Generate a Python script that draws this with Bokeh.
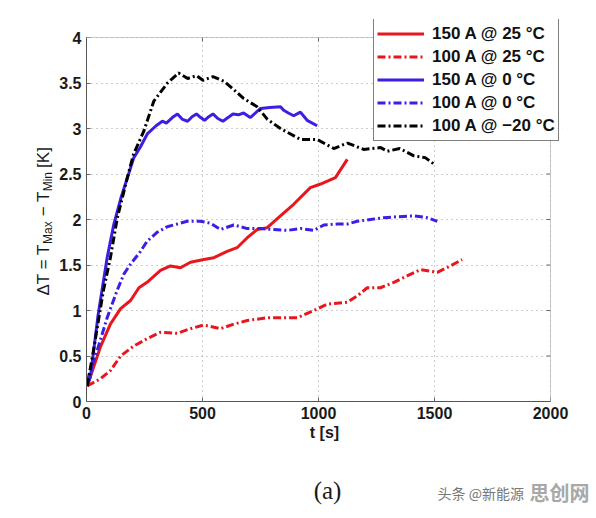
import math
from bokeh.plotting import figure
from bokeh.models import (Range1d, FixedTicker, Legend, LegendItem, Label, BoxAnnotation)
from bokeh.embed import file_html
from bokeh.resources import INLINE

# ---- data ----
series_labels = ["150 A @ 25 °C", "100 A @ 25 °C", "150 A @ 0 °C", "100 A @ 0 °C", "100 A @ \u221220 °C"]

red150_t = [3, 60, 103, 147, 190, 226, 261, 319, 362, 405, 448, 506, 549, 606, 649, 693, 736, 779,
            836, 894, 965, 1009, 1073, 1124]
red150_y = [0.17, 0.6, 0.85, 1.02, 1.11, 1.25, 1.31, 1.44, 1.49, 1.47, 1.53, 1.56, 1.58, 1.65, 1.69,
            1.80, 1.89, 1.91, 2.04, 2.17, 2.35, 2.39, 2.46, 2.66]

red100_t = [3, 60, 103, 147, 204, 261, 319, 391, 448, 506, 577, 635, 693, 779, 836, 908, 980, 1037,
            1124, 1167, 1210, 1267, 1325, 1382, 1440, 1512, 1569, 1619]
red100_y = [0.17, 0.25, 0.34, 0.50, 0.61, 0.69, 0.76, 0.75, 0.80, 0.84, 0.80, 0.85, 0.89, 0.92, 0.92,
            0.92, 1.00, 1.07, 1.09, 1.16, 1.25, 1.25, 1.31, 1.38, 1.45, 1.42, 1.49, 1.56]

blue150_t = [3, 17, 50, 89, 118, 150, 204, 233, 262, 300, 327, 344, 370, 392, 414, 436, 455, 474, 492,
             509, 527, 545, 566, 588, 610, 631, 655, 677, 706, 750, 790, 836, 850, 870, 893, 922, 951, 994]
blue150_y = [0.18, 0.27, 0.95, 1.58, 1.95, 2.25, 2.68, 2.80, 2.94, 3.03, 3.08, 3.06, 3.12, 3.16, 3.10,
             3.08, 3.13, 3.16, 3.12, 3.09, 3.13, 3.16, 3.11, 3.08, 3.12, 3.16, 3.15, 3.17, 3.12, 3.22,
             3.23, 3.24, 3.20, 3.17, 3.14, 3.18, 3.09, 3.03]

blue100_t = [3, 46, 89, 132, 161, 190, 233, 261, 305, 348, 391, 434, 491, 534, 577, 635, 693, 750, 807,
             865, 922, 980, 1023, 1081, 1124, 1167, 1224, 1281, 1339, 1411, 1468, 1512]
blue100_y = [0.23, 0.56, 0.92, 1.22, 1.40, 1.51, 1.65, 1.76, 1.86, 1.92, 1.95, 1.98, 1.98, 1.96, 1.89,
             1.94, 1.90, 1.90, 1.89, 1.88, 1.90, 1.88, 1.94, 1.95, 1.95, 1.98, 2.00, 2.02, 2.03, 2.04,
             2.02, 1.98]

black100_t = [3, 30, 73, 103, 133, 176, 203, 247, 290, 349, 397, 436, 474, 502, 545, 592, 634, 677, 735,
              780, 836, 922, 994, 1066, 1125, 1195, 1268, 1297, 1350, 1411, 1460, 1497]
black100_y = [0.17, 0.56, 1.22, 1.58, 2.02, 2.46, 2.72, 2.97, 3.30, 3.50, 3.61, 3.55, 3.58, 3.53, 3.57,
              3.52, 3.43, 3.33, 3.24, 3.10, 3.00, 2.88, 2.88, 2.78, 2.84, 2.77, 2.79, 2.75, 2.78, 2.70,
              2.68, 2.61]

x_ticks = [0, 500, 1000, 1500, 2000]
y_ticks = [0, 0.5, 1, 1.5, 2, 2.5, 3, 3.5, 4]
y_tick_labels = ["0", "0.5", "1", "1.5", "2", "2.5", "3", "3.5", "4"]

RED = "#e8161d"
BLUE = "#3b1fe4"
BLACK = "#000000"
DASHDOT = "8 3 2 3"
FONT = "Liberation Sans"
AXC = "#555555"

X0, X1 = x_ticks[0], x_ticks[-1]
Y0, Y1 = y_ticks[0], y_ticks[-1]
PX_X = 464 / (X1 - X0)   # pixels per data unit (axis box is 464 x 364 px)
PX_Y = 364 / (Y1 - Y0)

# frame extends a bit above/right of the axis box so the legend can overlap the box edge
p = figure(width=596, height=516, output_backend="svg", toolbar_location=None,
           x_range=Range1d(X0, X1 + 12 / PX_X), y_range=Range1d(Y0, Y1 + 18 / PX_Y),
           min_border_left=86, min_border_right=34, min_border_top=19, min_border_bottom=115)
p.background_fill_color = "white"
p.border_fill_color = "white"
p.outline_line_color = None

# grid
for g in (p.xgrid[0], p.ygrid[0]):
    g.grid_line_color = "#9a9a9a"
    g.grid_line_dash = "1 4"
    g.grid_line_width = 1
p.xgrid[0].ticker = FixedTicker(ticks=x_ticks)
p.ygrid[0].ticker = FixedTicker(ticks=y_ticks)

r1 = p.line(red150_t, red150_y, line_color=RED, line_width=3)
r2 = p.line(red100_t, red100_y, line_color=RED, line_width=3, line_dash=DASHDOT)
r3 = p.line(blue150_t, blue150_y, line_color=BLUE, line_width=3)
r4 = p.line(blue100_t, blue100_y, line_color=BLUE, line_width=3, line_dash=DASHDOT)
r5 = p.line(black100_t, black100_y, line_color=BLACK, line_width=3, line_dash=DASHDOT)

# mask the frame strip outside the axis box, then draw the box
p.add_layout(BoxAnnotation(bottom=Y1, fill_color="white", fill_alpha=1, line_color=None))
p.add_layout(BoxAnnotation(left=X1, fill_color="white", fill_alpha=1, line_color=None))
p.add_layout(BoxAnnotation(left=X0, right=X1, bottom=Y0, top=Y1, fill_alpha=0,
                           line_color=AXC, line_width=1))
# inward ticks on top and right edges
p.ray(x=x_ticks, y=[Y1] * len(x_ticks), length=4, length_units="screen", angle=-math.pi / 2,
      line_color="#666666", line_width=1)
p.ray(x=[X1] * len(y_ticks), y=y_ticks, length=4, length_units="screen", angle=math.pi,
      line_color="#666666", line_width=1)

# axes
xa = p.xaxis[0]
ya = p.yaxis[0]
xa.ticker = FixedTicker(ticks=x_ticks)
ya.ticker = FixedTicker(ticks=y_ticks)
xa.bounds = (X0, X1)
ya.bounds = (Y0, Y1)
ya.major_label_overrides = {t: l for t, l in zip(y_ticks, y_tick_labels)}
for ax in (xa, ya):
    ax.major_label_text_font = FONT
    ax.major_label_text_font_style = "bold"
    ax.major_label_text_font_size = "16px"
    ax.major_label_text_color = "#1a1a1a"
    ax.axis_line_color = AXC
    ax.major_tick_line_color = "#666666"
    ax.major_tick_in = 4
    ax.major_tick_out = 0
    ax.minor_tick_line_color = None
    ax.major_label_standoff = 5
xa.axis_label = "t [s]"
xa.axis_label_text_font = FONT
xa.axis_label_text_font_style = "bold"
xa.axis_label_text_font_size = "16px"
xa.axis_label_text_color = "#1a1a1a"
xa.axis_label_standoff = 2

# legend
legend = Legend(items=[LegendItem(label=l, renderers=[r]) for l, r in
                       zip(series_labels, [r1, r2, r3, r4, r5])],
                location=(287, 260), orientation="vertical")
legend.label_text_font = FONT
legend.label_text_font_style = "bold"
legend.label_text_font_size = "17px"
legend.label_text_color = "#111111"
legend.label_height = 23
legend.glyph_height = 23
legend.glyph_width = 47
legend.label_standoff = 8
legend.spacing = 0
legend.padding = 3
legend.margin = 0
legend.border_line_color = "#000000"
legend.border_line_width = 1.2
legend.background_fill_color = "white"
legend.background_fill_alpha = 1.0
p.add_layout(legend, "center")

# y-axis label (with subscripts) as two rotated texts in the left panel
def tx(px):   # canvas x -> data x
    return X0 + (px - 86) / PX_X
def ty(py):   # canvas y -> data y
    return Y0 + (401 - py) / PX_Y

NB = "\u00a0"
main_txt = "\u0394T = T" + NB * 5 + NB + "\u2212 T" + NB * 4 + NB + "[K]"
sub_txt = "Max" + NB * 9 + "Min"
p.add_layout(Label(x=tx(43), y=ty(295), text=main_txt, angle=math.pi / 2,
                   text_font=FONT, text_font_size="17px", text_color="#1a1a1a",
                   text_align="left", text_baseline="alphabetic"), "left")
p.add_layout(Label(x=tx(47), y=ty(295 - 51.5), text=sub_txt, angle=math.pi / 2,
                   text_font=FONT, text_font_size="12px", text_color="#1a1a1a",
                   text_align="left", text_baseline="alphabetic"), "left")

# caption (kept in the narrow right panel so the frame keeps its size) and watermark below
p.add_layout(Label(x=tx(327), y=ty(490), text="(a)",
                   text_font="Liberation Serif", text_font_size="25px", text_color="#1a1a1a",
                   text_align="center", text_baseline="middle"), "right")
p.add_layout(Label(x=tx(437), y=ty(492), text="头条 @新能源",
                   text_font="Noto Sans CJK SC", text_font_size="14px", text_color="#777777",
                   text_align="left", text_baseline="middle"), "below")
p.add_layout(Label(x=tx(529), y=ty(492), text="思创网",
                   text_font="Noto Sans CJK SC", text_font_style="bold", text_font_size="20px",
                   text_color="#a8a8a8", text_align="left", text_baseline="middle"), "below")

open("out.html", "w").write(file_html(p, INLINE))
